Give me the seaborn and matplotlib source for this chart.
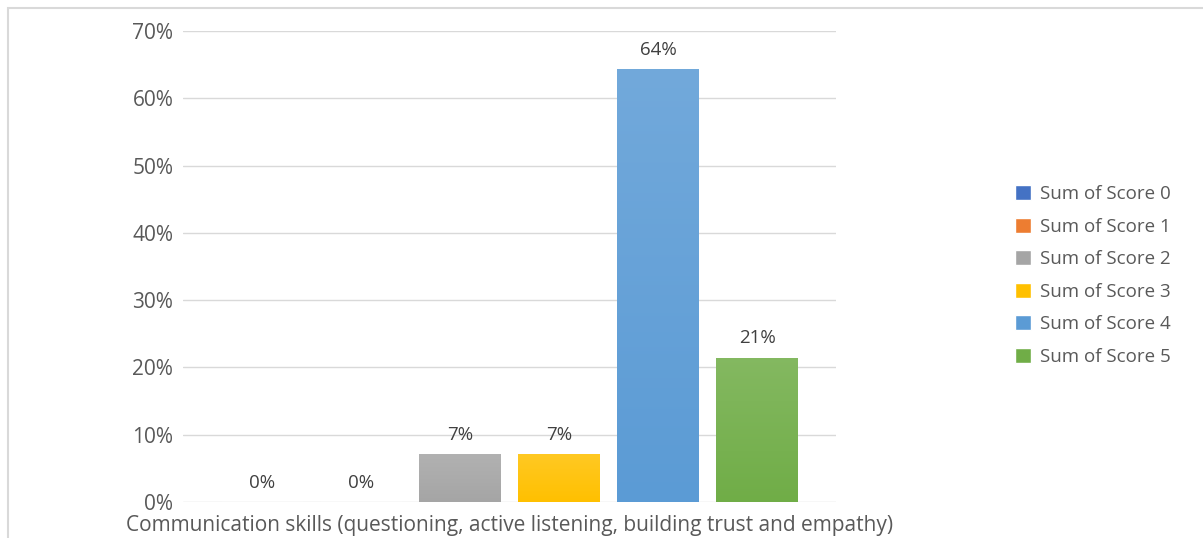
import numpy as np
import pandas as pd
import matplotlib
matplotlib.use("Agg")
import matplotlib.pyplot as plt
import matplotlib.colors as mcolors
from matplotlib.patches import Rectangle
from matplotlib.ticker import PercentFormatter
import seaborn as sns

category = "Communication skills (questioning, active listening, building trust and empathy)"
series = ["Sum of Score 0", "Sum of Score 1", "Sum of Score 2",
          "Sum of Score 3", "Sum of Score 4", "Sum of Score 5"]
values = [0.0, 0.0, 0.0714, 0.0714, 0.6429, 0.2143]
colors = ["#4472c4", "#ed7d31", "#a5a5a5", "#ffc000", "#5b9bd5", "#70ad47"]

df = pd.DataFrame({"skill": [category] * len(series), "series": series, "value": values})

sns.set_theme(style="white")
plt.rcParams["font.family"] = ["Open Sans", "DejaVu Sans"]
text_color = "#595959"

fig = plt.figure(figsize=(12.03, 5.38), dpi=100)
ax = fig.add_axes([183 / 1203, 1 - 502 / 538, (836 - 183) / 1203, (502 - 31) / 538])

sns.barplot(data=df, x="skill", y="value", hue="series", palette=colors,
            width=0.91, gap=0.18, ax=ax, legend=True, saturation=1)

ax.set_ylim(0, 0.7)
ax.set_yticks(np.arange(0, 0.71, 0.1))
ax.yaxis.set_major_formatter(PercentFormatter(1.0, decimals=0))
ax.grid(axis="y", color="#d9d9d9", linewidth=1)
ax.set_axisbelow(True)
for s in ax.spines.values():
    s.set_visible(False)
ax.tick_params(axis="y", length=0, pad=7, labelsize=15, labelcolor=text_color)
ax.tick_params(axis="x", length=0, pad=9, labelsize=15, labelcolor=text_color)
ax.set_xlabel("")
ax.set_ylabel("")

# soft vertical gradient inside each bar (lighter at the top), with value labels above
bars = [p for p in ax.patches if isinstance(p, Rectangle)]
for bar, val in zip(bars, values):
    x0, w, h = bar.get_x(), bar.get_width(), bar.get_height()
    base = np.array(mcolors.to_rgb(bar.get_facecolor()))
    light = base + (1 - base) * 0.14
    if h > 0:
        grad = np.linspace(0, 1, 256)[:, None, None]
        img = light * (1 - grad) + base * grad
        img = np.repeat(img, 2, axis=1)
        im = ax.imshow(img, extent=(x0, x0 + w, 0, h), aspect="auto",
                       origin="upper", zorder=2, interpolation="bilinear")
        im.set_clip_path(bar)
        bar.set_facecolor("none")
        bar.set_edgecolor("none")
    ax.annotate(f"{val * 100:.0f}%", (x0 + w / 2, h), xytext=(0, 7.5),
                textcoords="offset points", ha="center", va="bottom",
                fontsize=13.5, color="#404040")
ax.set_xlim(-0.5, 0.5)
ax.set_ylim(0, 0.7)

handles, labels = ax.get_legend_handles_labels()
leg = ax.legend(handles, labels, loc="center left", bbox_to_anchor=(998 / 1203, 1 - 275.5 / 538),
                bbox_transform=fig.transFigure, frameon=False, fontsize=13.5,
                handlelength=0.85, handleheight=0.85, handletextpad=0.5,
                labelspacing=0.78, labelcolor=text_color)

# chart area border
fig.patches.append(Rectangle((7.5 / 1203, -0.1), 1.2, 1 - 7.5 / 538 + 0.1,
                             transform=fig.transFigure, fill=False,
                             edgecolor="#d9d9d9", linewidth=1.5))

fig.savefig("out.png", dpi=100)
